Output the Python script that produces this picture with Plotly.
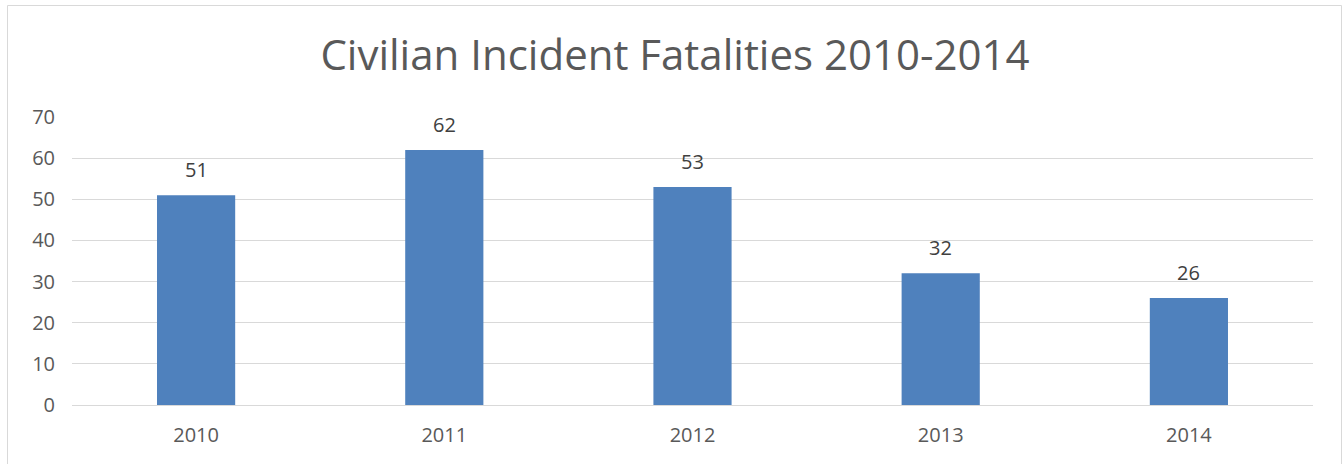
import plotly.graph_objects as go

years = ["2010", "2011", "2012", "2013", "2014"]
fatalities = [51, 62, 53, 32, 26]
y_ticks = [0, 10, 20, 30, 40, 50, 60, 70]

W, H = 1344, 464
L, R, T, B = 72, 31, 117, 59
pw, ph = W - L - R, H - T - B

def px_to_paper_x(px):
    return (px - L) / pw

def px_to_paper_y(py):
    return (H - B - py) / ph

fig = go.Figure()
fig.add_trace(go.Bar(
    x=years, y=fatalities,
    marker=dict(color="#4F81BD", line=dict(width=0)),
    width=0.315,
    hoverinfo="x+y",
))

# value labels above bars (x given as category index on the category axis)
for i, v in enumerate(fatalities):
    fig.add_annotation(x=i, y=v, xref="x", yref="y", text=str(v), showarrow=False,
                       yanchor="bottom", yshift=10,
                       font=dict(family="Open Sans", size=20, color="#404040"))

fig.add_shape(type="rect", xref="paper", yref="paper",
              x0=px_to_paper_x(7.5), x1=px_to_paper_x(1341.5),
              y0=px_to_paper_y(480), y1=px_to_paper_y(5.5),
              line=dict(color="#D9D9D9", width=1), fillcolor="rgba(0,0,0,0)",
              layer="below")

fig.update_layout(
    width=W, height=H,
    margin=dict(l=L, r=R, t=T, b=B, autoexpand=False),
    paper_bgcolor="white", plot_bgcolor="white",
    title=dict(text="Civilian Incident Fatalities 2010-2014",
               x=675 / W, xanchor="center", xref="container",
               y=1 - 55 / H, yanchor="middle", yref="container",
               font=dict(family="Open Sans", size=42, color="#595959")),
    font=dict(family="Open Sans", color="#595959"),
    showlegend=False,
    xaxis=dict(type="category", range=[-0.5, len(years) - 0.5],
               showgrid=False, showline=True,
               linecolor="#D9D9D9", linewidth=1, automargin=False,
               ticks="", tickfont=dict(size=20, color="#595959"),
               ticklabelstandoff=12),
    yaxis=dict(range=[0, 70], tickvals=y_ticks, showgrid=True, automargin=False,
               gridcolor="#D9D9D9", gridwidth=1, zeroline=True,
               zerolinecolor="#D9D9D9", zerolinewidth=1, showline=False,
               ticks="", tickfont=dict(size=20, color="#595959"),
               ticklabelstandoff=16),
)

fig.write_html("out.html", config={"displayModeBar": False},
               post_script="document.body.style.margin='0';document.body.style.overflow='hidden';")
